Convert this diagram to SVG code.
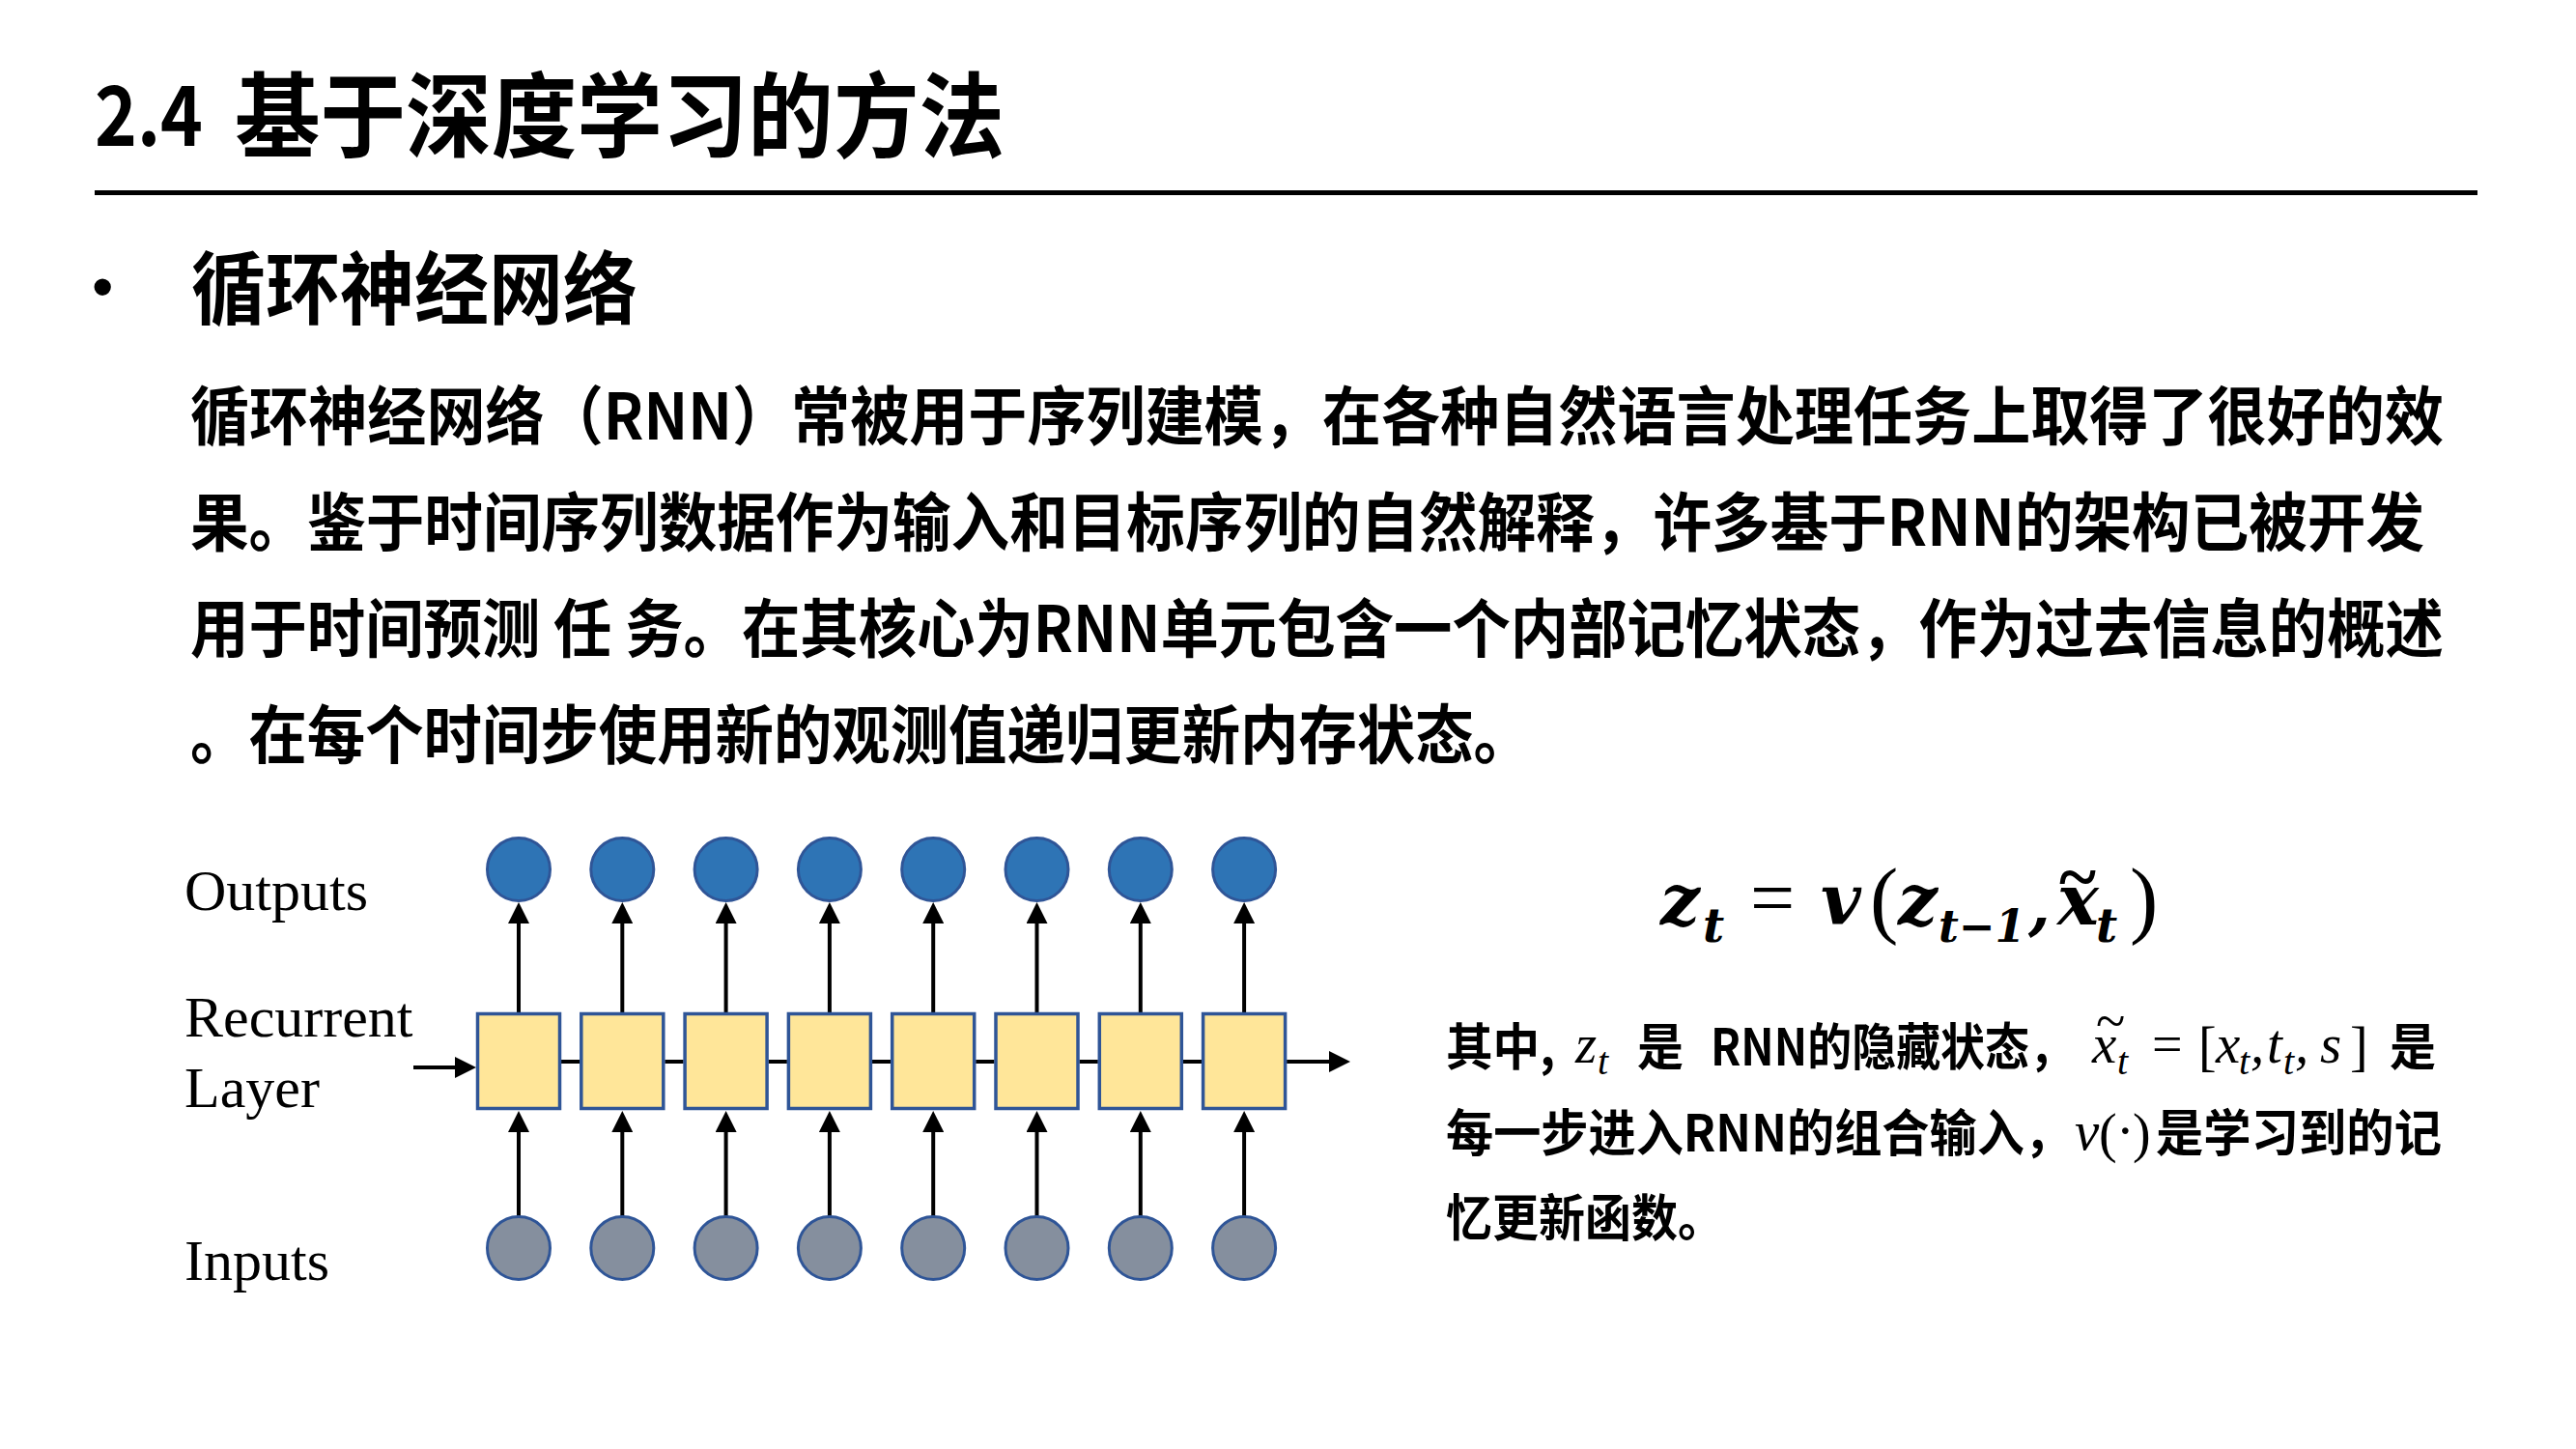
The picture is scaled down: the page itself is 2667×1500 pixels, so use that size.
<svg xmlns="http://www.w3.org/2000/svg" width="2667" height="1500" viewBox="0 0 2667 1500">
<style>
.cjk{font-family:"Noto Sans CJK SC","Noto Sans",sans-serif;font-weight:bold;fill:#000}
.lbl{font-family:"Liberation Serif","Times New Roman",serif;font-size:60px;fill:#000}
.out{fill:#2E74B5;stroke:#2F5597;stroke-width:3}
.inp{fill:#858F9E;stroke:#2F5597;stroke-width:3}
.cell{fill:#FFE699;stroke:#2F5597;stroke-width:3.5}
.conn{stroke:#000;stroke-width:4;fill:none}
.fm{font-family:"DejaVu Serif",serif;font-style:italic;font-weight:bold;fill:#000}
.fr{font-family:"Liberation Serif",serif;fill:#000}
.mi{font-family:"Liberation Serif","Times New Roman",serif;font-style:italic;font-size:57px;fill:#000}
.ms{font-family:"Liberation Serif","Times New Roman",serif;font-style:italic;font-size:40px;fill:#000}
.mr{font-family:"Liberation Serif","Times New Roman",serif;font-size:56px;fill:#000}
</style>
<defs>
<marker id="ah" viewBox="0 0 22 22" refX="12" refY="11" markerWidth="22" markerHeight="22" markerUnits="userSpaceOnUse" orient="auto">
<path d="M0,0 L22,11 L0,22 z" fill="#000"/>
</marker>
</defs>
<rect width="2667" height="1500" fill="#fff"/>

<g id="title">
<text class="cjk" x="98" y="151" font-size="86" textLength="112" lengthAdjust="spacingAndGlyphs">2.4</text>
<text class="cjk" x="243" y="155" font-size="96" textLength="797" lengthAdjust="spacingAndGlyphs">基于深度学习的方法</text>
<rect x="98" y="197" width="2467" height="5" fill="#000"/>
</g>

<g id="heading">
<text x="95" y="319" font-family="Liberation Sans, Arial, sans-serif" font-size="64">•</text>
<text class="cjk" x="198" y="329" font-size="82" textLength="462" lengthAdjust="spacingAndGlyphs">循环神经网络</text>
</g>

<g id="paragraph" class="cjk" font-size="66">
<text x="197" y="455" textLength="2333" lengthAdjust="spacingAndGlyphs">循环神经网络（RNN）常被用于序列建模，在各种自然语言处理任务上取得了很好的效</text>
<text x="197" y="565" textLength="2313" lengthAdjust="spacingAndGlyphs">果。鉴于时间序列数据作为输入和目标序列的自然解释，许多基于RNN的架构已被开发</text>
<text x="197" y="675" textLength="2333" lengthAdjust="spacingAndGlyphs">用于时间预测 任 务。在其核心为RNN单元包含一个内部记忆状态，作为过去信息的概述</text>
<text x="197" y="785" textLength="1389" lengthAdjust="spacingAndGlyphs">。在每个时间步使用新的观测值递归更新内存状态。</text>
</g>

<g id="labels">
<text class="lbl" x="191" y="942">Outputs</text>
<text class="lbl" x="191" y="1073">Recurrent</text>
<text class="lbl" x="191" y="1146">Layer</text>
<text class="lbl" x="191" y="1325">Inputs</text>
</g>

<g id="connectors">
<line class="conn" x1="537" y1="1048" x2="537" y2="944" marker-end="url(#ah)"/>
<line class="conn" x1="644.3" y1="1048" x2="644.3" y2="944" marker-end="url(#ah)"/>
<line class="conn" x1="751.6" y1="1048" x2="751.6" y2="944" marker-end="url(#ah)"/>
<line class="conn" x1="858.9" y1="1048" x2="858.9" y2="944" marker-end="url(#ah)"/>
<line class="conn" x1="966.2" y1="1048" x2="966.2" y2="944" marker-end="url(#ah)"/>
<line class="conn" x1="1073.5" y1="1048" x2="1073.5" y2="944" marker-end="url(#ah)"/>
<line class="conn" x1="1180.8" y1="1048" x2="1180.8" y2="944" marker-end="url(#ah)"/>
<line class="conn" x1="1288.1" y1="1048" x2="1288.1" y2="944" marker-end="url(#ah)"/>

<line class="conn" x1="537" y1="1259" x2="537" y2="1160" marker-end="url(#ah)"/>
<line class="conn" x1="644.3" y1="1259" x2="644.3" y2="1160" marker-end="url(#ah)"/>
<line class="conn" x1="751.6" y1="1259" x2="751.6" y2="1160" marker-end="url(#ah)"/>
<line class="conn" x1="858.9" y1="1259" x2="858.9" y2="1160" marker-end="url(#ah)"/>
<line class="conn" x1="966.2" y1="1259" x2="966.2" y2="1160" marker-end="url(#ah)"/>
<line class="conn" x1="1073.5" y1="1259" x2="1073.5" y2="1160" marker-end="url(#ah)"/>
<line class="conn" x1="1180.8" y1="1259" x2="1180.8" y2="1160" marker-end="url(#ah)"/>
<line class="conn" x1="1288.1" y1="1259" x2="1288.1" y2="1160" marker-end="url(#ah)"/>

<line class="conn" x1="581" y1="1099" x2="600.3" y2="1099"/>
<line class="conn" x1="688.3" y1="1099" x2="707.6" y2="1099"/>
<line class="conn" x1="795.6" y1="1099" x2="814.9" y2="1099"/>
<line class="conn" x1="902.9" y1="1099" x2="922.2" y2="1099"/>
<line class="conn" x1="1010.2" y1="1099" x2="1029.5" y2="1099"/>
<line class="conn" x1="1117.5" y1="1099" x2="1136.8" y2="1099"/>
<line class="conn" x1="1224.8" y1="1099" x2="1244.1" y2="1099"/>
<line class="conn" x1="1332.1" y1="1099" x2="1388" y2="1099" marker-end="url(#ah)"/>
<line class="conn" x1="428" y1="1105" x2="483" y2="1105" marker-end="url(#ah)"/>
</g>

<g id="outputs">
<circle id="o1" class="out" cx="537" cy="900" r="32.5"/>
<circle id="o2" class="out" cx="644.3" cy="900" r="32.5"/>
<circle id="o3" class="out" cx="751.6" cy="900" r="32.5"/>
<circle id="o4" class="out" cx="858.9" cy="900" r="32.5"/>
<circle id="o5" class="out" cx="966.2" cy="900" r="32.5"/>
<circle id="o6" class="out" cx="1073.5" cy="900" r="32.5"/>
<circle id="o7" class="out" cx="1180.8" cy="900" r="32.5"/>
<circle id="o8" class="out" cx="1288.1" cy="900" r="32.5"/>
</g>

<g id="cells">
<rect id="c1" class="cell" x="494.5" y="1049.5" width="85" height="98"/>
<rect id="c2" class="cell" x="601.8" y="1049.5" width="85" height="98"/>
<rect id="c3" class="cell" x="709.1" y="1049.5" width="85" height="98"/>
<rect id="c4" class="cell" x="816.4" y="1049.5" width="85" height="98"/>
<rect id="c5" class="cell" x="923.7" y="1049.5" width="85" height="98"/>
<rect id="c6" class="cell" x="1031" y="1049.5" width="85" height="98"/>
<rect id="c7" class="cell" x="1138.3" y="1049.5" width="85" height="98"/>
<rect id="c8" class="cell" x="1245.6" y="1049.5" width="85" height="98"/>
</g>

<g id="inputs">
<circle id="i1" class="inp" cx="537" cy="1292" r="32.5"/>
<circle id="i2" class="inp" cx="644.3" cy="1292" r="32.5"/>
<circle id="i3" class="inp" cx="751.6" cy="1292" r="32.5"/>
<circle id="i4" class="inp" cx="858.9" cy="1292" r="32.5"/>
<circle id="i5" class="inp" cx="966.2" cy="1292" r="32.5"/>
<circle id="i6" class="inp" cx="1073.5" cy="1292" r="32.5"/>
<circle id="i7" class="inp" cx="1180.8" cy="1292" r="32.5"/>
<circle id="i8" class="inp" cx="1288.1" cy="1292" r="32.5"/>
</g>

<g id="formula">
<text class="fm" x="1719" y="957" font-size="72">z</text>
<text class="fm" x="1763" y="975" font-size="48">t</text>
<text class="fr" x="1812" y="957" font-size="82">=</text>
<text class="fm" x="1885" y="957" font-size="72">v</text>
<text class="fr" x="1936" y="960" font-size="88">(</text>
<text class="fm" x="1965" y="957" font-size="72">z</text>
<text class="fm" x="2007" y="975" font-size="46" textLength="90" lengthAdjust="spacingAndGlyphs">t−1</text>
<text class="fm" x="2100" y="960" font-size="66">,</text>
<text class="fm" x="2130" y="957" font-size="72">x</text>
<text class="fr" x="2132" y="932" font-size="74" font-weight="bold" textLength="38" lengthAdjust="spacingAndGlyphs">~</text>
<text class="fm" x="2170" y="975" font-size="48">t</text>
<text class="fr" x="2205" y="960" font-size="88">)</text>
</g>

<g id="description">
<text class="cjk" x="1497" y="1103" font-size="52" textLength="113" lengthAdjust="spacingAndGlyphs">其中,</text>
<text class="mi" x="1631" y="1100">z</text>
<text class="ms" x="1654" y="1112">t</text>
<text class="cjk" x="1695" y="1103" font-size="52" textLength="48" lengthAdjust="spacingAndGlyphs">是</text>
<text class="cjk" x="1771" y="1103" font-size="52" textLength="376" lengthAdjust="spacingAndGlyphs">RNN的隐藏状态，</text>
<text class="mi" x="2166" y="1100">x</text>
<text class="mr" x="2170" y="1076" font-size="44">~</text>
<text class="ms" x="2192" y="1112">t</text>
<text class="mr" x="2228" y="1100">=</text>
<text class="mr" x="2276" y="1102">[</text>
<text class="mi" x="2294" y="1100">x</text>
<text class="ms" x="2318" y="1112">t</text>
<text class="mi" x="2330" y="1100">,</text>
<text class="mi" x="2347" y="1100">t</text>
<text class="ms" x="2364" y="1112">t</text>
<text class="mi" x="2376" y="1100">,</text>
<text class="mi" x="2402" y="1100">s</text>
<text class="mr" x="2433" y="1102">]</text>
<text class="cjk" x="2474" y="1103" font-size="52" textLength="48" lengthAdjust="spacingAndGlyphs">是</text>

<text class="cjk" x="1497" y="1192" font-size="52" textLength="648" lengthAdjust="spacingAndGlyphs">每一步进入RNN的组合输入，</text>
<text class="mi" x="2148" y="1190">v</text>
<text class="mr" x="2173" y="1192">(</text>
<text class="mr" x="2191" y="1190">·</text>
<text class="mr" x="2208" y="1192">)</text>
<text class="cjk" x="2232" y="1192" font-size="52" textLength="296" lengthAdjust="spacingAndGlyphs">是学习到的记</text>

<text class="cjk" x="1497" y="1280" font-size="52" textLength="288" lengthAdjust="spacingAndGlyphs">忆更新函数。</text>
</g>
</svg>
